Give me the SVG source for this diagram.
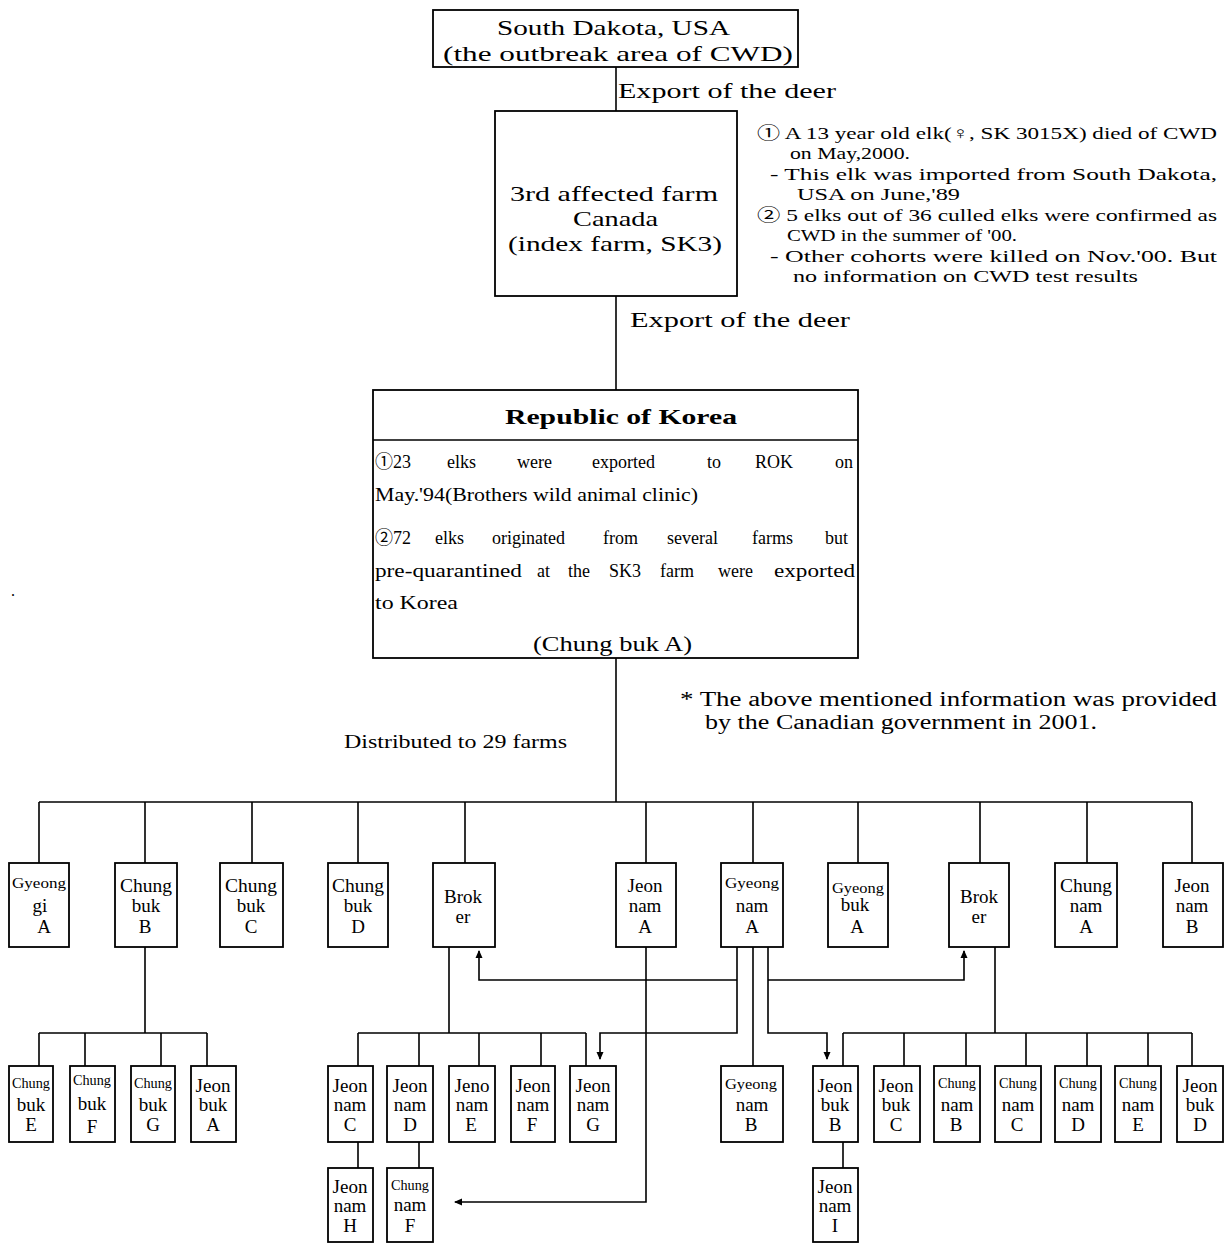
<svg xmlns="http://www.w3.org/2000/svg" width="1226" height="1243" viewBox="0 0 1226 1243">
<style>
text{font-family:"Liberation Serif","Noto Sans CJK KR",serif;fill:#000}
.box{fill:#fff;stroke:#000;stroke-width:1.8}
.ln{fill:none;stroke:#000;stroke-width:1.6}
.n{font-size:19px;text-anchor:middle}
.ns{font-size:15px;text-anchor:middle}
.big{font-size:21px}
.note{font-size:17px}
.body{font-size:18px}
</style>
<defs>
<marker id="ah" viewBox="0 0 8 8" refX="7" refY="4" markerWidth="8" markerHeight="8" markerUnits="userSpaceOnUse" orient="auto">
<path d="M0,0.5 L8,4 L0,7.5 Z" fill="#000"/>
</marker>
</defs>
<rect width="1226" height="1243" fill="#fff"/>

<g id="connectors">
<line class="ln" x1="616" y1="67" x2="616" y2="111"/>
<line class="ln" x1="616" y1="296" x2="616" y2="390"/>
<line class="ln" x1="616" y1="658" x2="616" y2="802"/>
<line class="ln" x1="39" y1="802" x2="1192" y2="802"/>
<path class="ln" d="M39,802V863M145,802V863M252,802V863M358,802V863M465,802V863M646,802V863M753,802V863M858,802V863M980,802V863M1087,802V863M1192,802V863"/>
<path class="ln" d="M145,947V1033M39,1033H207M39,1033V1066M85,1033V1066M161,1033V1066M207,1033V1066"/>
<path class="ln" d="M449,947V1033M358,1033H586M358,1033V1066M419,1033V1066M479,1033V1066M541,1033V1066M586,1033V1066M358,1142V1168M419,1142V1168"/>
<path class="ln" d="M646,947V1202H455" marker-end="url(#ah)"/>
<path class="ln" d="M737,947V1033H600V1059" marker-end="url(#ah)"/>
<path class="ln" d="M737,980H479V951" marker-end="url(#ah)"/>
<line class="ln" x1="753" y1="947" x2="753" y2="1066" stroke-width="2.2"/>
<path class="ln" d="M768,947V1033H827V1059" marker-end="url(#ah)"/>
<path class="ln" d="M768,980H964V951" marker-end="url(#ah)"/>
<path class="ln" d="M995,947V1033M843,1033H1192M843,1033V1066M904,1033V1066M966,1033V1066M1026,1033V1066M1087,1033V1066M1148,1033V1066M1192,1033V1066M843,1142V1168"/>
</g>

<g id="usa">
<rect class="box" x="433" y="10" width="365" height="57"/>
<text class="big" x="497" y="35" textLength="233" lengthAdjust="spacingAndGlyphs">South Dakota, USA</text>
<text class="big" x="443" y="61" textLength="350" lengthAdjust="spacingAndGlyphs">(the outbreak area of CWD)</text>
</g>
<text class="big" x="618" y="98" textLength="218" lengthAdjust="spacingAndGlyphs">Export of the deer</text>

<g id="canada">
<rect class="box" x="495" y="111" width="242" height="185"/>
<text class="big" x="510" y="201" textLength="208" lengthAdjust="spacingAndGlyphs">3rd affected farm</text>
<text class="big" x="573" y="226" textLength="85" lengthAdjust="spacingAndGlyphs">Canada</text>
<text class="big" x="508" y="251" textLength="214" lengthAdjust="spacingAndGlyphs">(index farm, SK3)</text>
</g>
<text class="big" x="630" y="327" textLength="220" lengthAdjust="spacingAndGlyphs">Export of the deer</text>

<g id="note1">
<text class="note" x="757" y="139" textLength="460" lengthAdjust="spacingAndGlyphs">① A 13 year old elk(♀, SK 3015X) died of CWD</text>
<text class="note" x="790" y="159" textLength="120" lengthAdjust="spacingAndGlyphs">on May,2000.</text>
<text class="note" x="770" y="180" textLength="447" lengthAdjust="spacingAndGlyphs">- This elk was imported from South Dakota,</text>
<text class="note" x="797" y="200" textLength="163" lengthAdjust="spacingAndGlyphs">USA on June,'89</text>
<text class="note" x="757" y="221" textLength="460" lengthAdjust="spacingAndGlyphs">② 5 elks out of 36 culled elks were confirmed as</text>
<text class="note" x="787" y="241" textLength="230" lengthAdjust="spacingAndGlyphs">CWD in the summer of '00.</text>
<text class="note" x="770" y="262" textLength="447" lengthAdjust="spacingAndGlyphs">- Other cohorts were killed on Nov.'00. But</text>
<text class="note" x="793" y="282" textLength="345" lengthAdjust="spacingAndGlyphs">no information on CWD test results</text>
</g>

<g id="korea">
<rect class="box" x="373" y="390" width="485" height="268"/>
<line class="ln" x1="373" y1="440" x2="858" y2="440"/>
<text x="505" y="424" font-size="22" font-weight="bold" textLength="232" lengthAdjust="spacingAndGlyphs">Republic of Korea</text>
<text class="body" y="468"><tspan x="375">①23</tspan><tspan x="447">elks</tspan><tspan x="517">were</tspan><tspan x="592">exported</tspan><tspan x="707">to</tspan><tspan x="755">ROK</tspan><tspan x="835">on</tspan></text>
<text class="body" x="375" y="501" textLength="323" lengthAdjust="spacingAndGlyphs">May.'94(Brothers wild animal clinic)</text>
<text class="body" y="544"><tspan x="375">②72</tspan><tspan x="435">elks</tspan><tspan x="492">originated</tspan><tspan x="603">from</tspan><tspan x="667">several</tspan><tspan x="752">farms</tspan><tspan x="825">but</tspan></text>
<text class="body" y="577"><tspan x="375" textLength="147" lengthAdjust="spacingAndGlyphs">pre-quarantined</tspan><tspan x="537">at</tspan><tspan x="568">the</tspan><tspan x="609">SK3</tspan><tspan x="660">farm</tspan><tspan x="718">were</tspan><tspan x="774" textLength="81" lengthAdjust="spacingAndGlyphs">exported</tspan></text>
<text class="body" x="375" y="609" textLength="83" lengthAdjust="spacingAndGlyphs">to Korea</text>
<text x="533" y="651" font-size="20" textLength="159" lengthAdjust="spacingAndGlyphs">(Chung buk A)</text>
</g>

<text x="11" y="596" font-size="16">.</text>
<text x="344" y="748" font-size="19" textLength="223" lengthAdjust="spacingAndGlyphs">Distributed to 29 farms</text>
<text x="680" y="706" font-size="20" textLength="537" lengthAdjust="spacingAndGlyphs">* The above mentioned information was provided</text>
<text x="705" y="729" font-size="20" textLength="392" lengthAdjust="spacingAndGlyphs">by the Canadian government in 2001.</text>

<!-- Row 1 -->
<g id="gyeonggiA"><rect class="box" x="9" y="863" width="60" height="84"/><text class="ns" x="39" y="888" textLength="54" lengthAdjust="spacingAndGlyphs">Gyeong</text><text class="n" x="40" y="912">gi</text><text class="n" x="44" y="933">A</text></g>
<g id="chungbukB"><rect class="box" x="115" y="863" width="62" height="84"/><text class="n" x="146" y="892" textLength="52" lengthAdjust="spacingAndGlyphs">Chung</text><text class="n" x="146" y="912">buk</text><text class="n" x="145" y="933">B</text></g>
<g id="chungbukC"><rect class="box" x="220" y="863" width="63" height="84"/><text class="n" x="251" y="892" textLength="52" lengthAdjust="spacingAndGlyphs">Chung</text><text class="n" x="251" y="912">buk</text><text class="n" x="251" y="933">C</text></g>
<g id="chungbukD"><rect class="box" x="328" y="863" width="60" height="84"/><text class="n" x="358" y="892" textLength="52" lengthAdjust="spacingAndGlyphs">Chung</text><text class="n" x="358" y="912">buk</text><text class="n" x="358" y="933">D</text></g>
<g id="broker1"><rect class="box" x="433" y="863" width="62" height="84"/><text class="n" x="463" y="903">Brok</text><text class="n" x="463" y="923">er</text></g>
<g id="jeonnamA"><rect class="box" x="616" y="863" width="60" height="84"/><text class="n" x="645" y="892">Jeon</text><text class="n" x="645" y="912">nam</text><text class="n" x="645" y="933">A</text></g>
<g id="gyeongnamA"><rect class="box" x="721" y="863" width="62" height="84"/><text class="ns" x="752" y="888" textLength="54" lengthAdjust="spacingAndGlyphs">Gyeong</text><text class="n" x="752" y="912">nam</text><text class="n" x="752" y="933">A</text></g>
<g id="gyeongbukA"><rect class="box" x="828" y="863" width="60" height="84"/><text class="ns" x="858" y="893" textLength="52" lengthAdjust="spacingAndGlyphs">Gyeong</text><text class="n" x="855" y="911">buk</text><text class="n" x="857" y="933">A</text></g>
<g id="broker2"><rect class="box" x="949" y="863" width="60" height="84"/><text class="n" x="979" y="903">Brok</text><text class="n" x="979" y="923">er</text></g>
<g id="chungnamA"><rect class="box" x="1055" y="863" width="62" height="84"/><text class="n" x="1086" y="892" textLength="52" lengthAdjust="spacingAndGlyphs">Chung</text><text class="n" x="1086" y="912">nam</text><text class="n" x="1086" y="933">A</text></g>
<g id="jeonnamB"><rect class="box" x="1163" y="863" width="60" height="84"/><text class="n" x="1192" y="892">Jeon</text><text class="n" x="1192" y="912">nam</text><text class="n" x="1192" y="933">B</text></g>

<!-- Row 2 -->
<g id="chungbukE"><rect class="box" x="9" y="1066" width="44" height="76"/><text class="ns" x="31" y="1088" textLength="38" lengthAdjust="spacingAndGlyphs">Chung</text><text class="n" x="31" y="1111">buk</text><text class="n" x="31" y="1131">E</text></g>
<g id="chungbukF"><rect class="box" x="70" y="1066" width="45" height="76"/><text class="ns" x="92" y="1085" textLength="38" lengthAdjust="spacingAndGlyphs">Chung</text><text class="n" x="92" y="1110">buk</text><text class="n" x="92" y="1133">F</text></g>
<g id="chungbukG"><rect class="box" x="131" y="1066" width="44" height="76"/><text class="ns" x="153" y="1088" textLength="38" lengthAdjust="spacingAndGlyphs">Chung</text><text class="n" x="153" y="1111">buk</text><text class="n" x="153" y="1131">G</text></g>
<g id="jeonbukA"><rect class="box" x="191" y="1066" width="45" height="76"/><text class="n" x="213" y="1092">Jeon</text><text class="n" x="213" y="1111">buk</text><text class="n" x="213" y="1131">A</text></g>
<g id="jeonnamC"><rect class="box" x="328" y="1066" width="45" height="76"/><text class="n" x="350" y="1092">Jeon</text><text class="n" x="350" y="1111">nam</text><text class="n" x="350" y="1131">C</text></g>
<g id="jeonnamD"><rect class="box" x="387" y="1066" width="46" height="76"/><text class="n" x="410" y="1092">Jeon</text><text class="n" x="410" y="1111">nam</text><text class="n" x="410" y="1131">D</text></g>
<g id="jenonamE"><rect class="box" x="449" y="1066" width="46" height="76"/><text class="n" x="472" y="1092">Jeno</text><text class="n" x="472" y="1111">nam</text><text class="n" x="471" y="1131">E</text></g>
<g id="jeonnamF"><rect class="box" x="511" y="1066" width="44" height="76"/><text class="n" x="533" y="1092">Jeon</text><text class="n" x="533" y="1111">nam</text><text class="n" x="532" y="1131">F</text></g>
<g id="jeonnamG"><rect class="box" x="570" y="1066" width="46" height="76"/><text class="n" x="593" y="1092">Jeon</text><text class="n" x="593" y="1111">nam</text><text class="n" x="593" y="1131">G</text></g>
<g id="gyeongnamB"><rect class="box" x="721" y="1066" width="62" height="76"/><text class="ns" x="751" y="1089" textLength="52" lengthAdjust="spacingAndGlyphs">Gyeong</text><text class="n" x="752" y="1111">nam</text><text class="n" x="751" y="1131">B</text></g>
<g id="jeonbukB"><rect class="box" x="813" y="1066" width="45" height="76"/><text class="n" x="835" y="1092">Jeon</text><text class="n" x="835" y="1111">buk</text><text class="n" x="835" y="1131">B</text></g>
<g id="jeonbukC"><rect class="box" x="874" y="1066" width="46" height="76"/><text class="n" x="896" y="1092">Jeon</text><text class="n" x="896" y="1111">buk</text><text class="n" x="896" y="1131">C</text></g>
<g id="chungnamB"><rect class="box" x="934" y="1066" width="46" height="76"/><text class="ns" x="957" y="1088" textLength="38" lengthAdjust="spacingAndGlyphs">Chung</text><text class="n" x="957" y="1111">nam</text><text class="n" x="956" y="1131">B</text></g>
<g id="chungnamC"><rect class="box" x="995" y="1066" width="46" height="76"/><text class="ns" x="1018" y="1088" textLength="38" lengthAdjust="spacingAndGlyphs">Chung</text><text class="n" x="1018" y="1111">nam</text><text class="n" x="1017" y="1131">C</text></g>
<g id="chungnamD"><rect class="box" x="1055" y="1066" width="46" height="76"/><text class="ns" x="1078" y="1088" textLength="38" lengthAdjust="spacingAndGlyphs">Chung</text><text class="n" x="1078" y="1111">nam</text><text class="n" x="1078" y="1131">D</text></g>
<g id="chungnamE"><rect class="box" x="1115" y="1066" width="46" height="76"/><text class="ns" x="1138" y="1088" textLength="38" lengthAdjust="spacingAndGlyphs">Chung</text><text class="n" x="1138" y="1111">nam</text><text class="n" x="1138" y="1131">E</text></g>
<g id="jeonbukD"><rect class="box" x="1177" y="1066" width="46" height="76"/><text class="n" x="1200" y="1092">Jeon</text><text class="n" x="1200" y="1111">buk</text><text class="n" x="1200" y="1131">D</text></g>

<!-- Row 3 -->
<g id="jeonnamH"><rect class="box" x="328" y="1168" width="45" height="74"/><text class="n" x="350" y="1193">Jeon</text><text class="n" x="350" y="1212">nam</text><text class="n" x="350" y="1232">H</text></g>
<g id="chungnamF"><rect class="box" x="387" y="1168" width="46" height="74"/><text class="ns" x="410" y="1190" textLength="38" lengthAdjust="spacingAndGlyphs">Chung</text><text class="n" x="410" y="1211">nam</text><text class="n" x="410" y="1232">F</text></g>
<g id="jeonnamI"><rect class="box" x="813" y="1168" width="45" height="74"/><text class="n" x="835" y="1193">Jeon</text><text class="n" x="835" y="1212">nam</text><text class="n" x="835" y="1232">I</text></g>
</svg>
